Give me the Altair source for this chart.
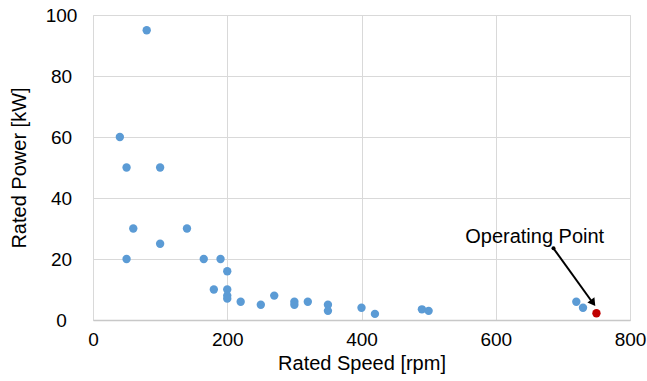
import altair as alt
import pandas as pd

# Survey data: rated speed [rpm] vs rated power [kW]
speed = [80, 40, 50, 100, 60, 50, 100, 140, 165, 190, 200, 180, 200, 200, 200,
         220, 250, 270, 300, 300, 320, 350, 350, 400, 420, 490, 500, 720, 730]
power = [95, 60, 50, 50, 30, 20, 25, 30, 20, 20, 16, 10, 10, 8, 7,
         6, 5, 8, 6, 5, 6, 5, 3, 4, 2, 3.5, 3, 6, 4]

# Operating point
op_speed = [750]
op_power = [2.2]

# Annotation (label and arrow) in data coordinates
label_text = ["Operating Point"]
label_x = [658]
label_y = [27.2]
arrow_x = [686]
arrow_y = [23.5]
arrow_x2 = [745]
arrow_y2 = [5.5]
head_x = [745]
head_y = [5.6]

FONT = "Liberation Sans"

df = pd.DataFrame({"speed": speed, "power": power})
op = pd.DataFrame({"speed": op_speed, "power": op_power})
lab = pd.DataFrame({"x": label_x, "y": label_y, "t": label_text})
arr = pd.DataFrame({"x": arrow_x, "y": arrow_y, "x2": arrow_x2, "y2": arrow_y2})
head = pd.DataFrame({"x": head_x, "y": head_y})

xscale = alt.Scale(domain=[0, 800], nice=False, zero=True)
yscale = alt.Scale(domain=[0, 100], nice=False, zero=True)

xaxis = alt.Axis(title="Rated Speed [rpm]", values=[0, 200, 400, 600, 800],
                 grid=True, gridColor="#d9d9d9", ticks=False,
                 domain=True, domainColor="#c8c8c8", domainWidth=1.5,
                 labelFont=FONT, labelFontSize=19, labelColor="#000000",
                 labelPadding=10, labelFlush=False,
                 titleFont=FONT, titleFontSize=20, titleFontWeight="normal",
                 titleColor="#000000", titlePadding=4)
yaxis = alt.Axis(title="Rated Power [kW]", values=[0, 20, 40, 60, 80, 100],
                 grid=True, gridColor="#d9d9d9", ticks=False,
                 domain=False, labelAlign="center",
                 labelFont=FONT, labelFontSize=19, labelColor="#000000",
                 labelPadding=32, labelFlush=False,
                 titleFont=FONT, titleFontSize=20, titleFontWeight="normal",
                 titleColor="#000000", titlePadding=16)

base_pts = alt.Chart(df).mark_circle(size=70, opacity=1, color="#5B9BD5").encode(
    x=alt.X("speed:Q", scale=xscale, axis=xaxis),
    y=alt.Y("power:Q", scale=yscale, axis=yaxis),
)

op_pts = alt.Chart(op).mark_circle(size=70, opacity=1, color="#C00000").encode(
    x=alt.X("speed:Q", scale=xscale),
    y=alt.Y("power:Q", scale=yscale),
)

arrow_line = alt.Chart(arr).mark_rule(color="#000000", strokeWidth=2).encode(
    x=alt.X("x:Q", scale=xscale), y=alt.Y("y:Q", scale=yscale),
    x2="x2:Q", y2="y2:Q",
)

arrow_start = alt.Chart(arr).mark_circle(size=16, opacity=1, color="#000000").encode(
    x=alt.X("x:Q", scale=xscale), y=alt.Y("y:Q", scale=yscale),
)

arrow_head = alt.Chart(head).mark_point(shape="triangle-up", size=75, filled=True,
                                        opacity=1, color="#000000", angle=144.4).encode(
    x=alt.X("x:Q", scale=xscale), y=alt.Y("y:Q", scale=yscale),
)

label = alt.Chart(lab).mark_text(font=FONT, fontSize=20, color="#000000",
                                 align="center", baseline="middle").encode(
    x=alt.X("x:Q", scale=xscale), y=alt.Y("y:Q", scale=yscale), text="t:N",
)

chart = alt.layer(base_pts, op_pts, arrow_line, arrow_start, arrow_head, label).properties(
    width=537, height=305,
    autosize=alt.AutoSizeParams(type="none"),
    padding={"left": 93, "top": 15, "right": 17, "bottom": 61},
).configure_view(stroke=None).configure(background="#ffffff")

chart.save("out.html", embed_options={"renderer": "svg", "actions": False})
